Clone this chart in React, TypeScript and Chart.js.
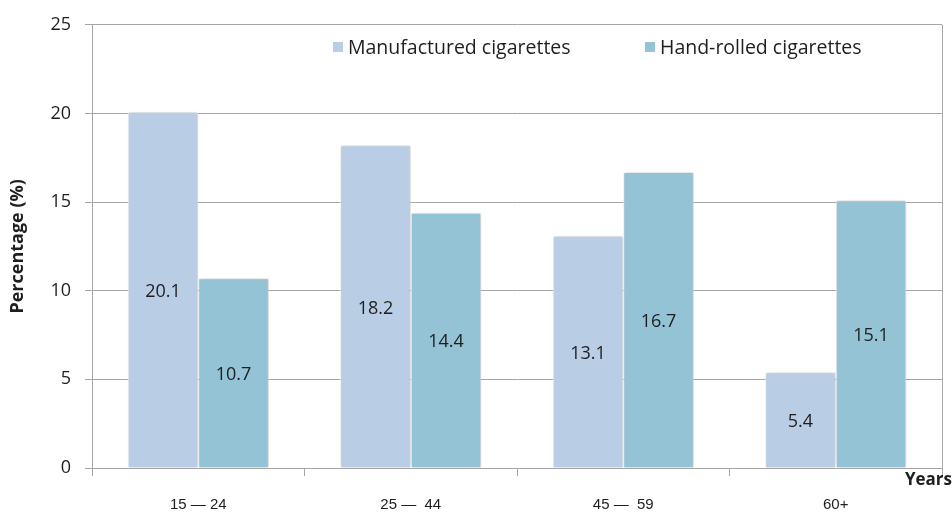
import React, { useEffect, useRef } from "react";
import { Chart, registerables } from "chart.js";

Chart.register(...registerables);

const ageGroups = ["15 — 24", "25 —  44", "45 —  59", "60+"];
const manufactured = [20.1, 18.2, 13.1, 5.4];
const handRolled = [10.7, 14.4, 16.7, 15.1];
const seriesNames = ["Manufactured cigarettes", "Hand-rolled cigarettes"];
const seriesColors = ["#b9cde5", "#93c3d5"];
const yTicks = [0, 5, 10, 15, 20, 25];

const GRID = "#a6a6a6";
const TEXT = "#1e1e1e";
const FONT = "'Open Sans', sans-serif";

// Soft drop shadow behind the bars, value labels centred in each bar,
// the in-plot legend, the right frame line and the "Years" caption.
const decorations = {
  id: "decorations",
  beforeDatasetsDraw(chart: any) {
    const ctx = chart.ctx;
    ctx.save();
    ctx.shadowColor = "rgba(0,0,0,0.22)";
    ctx.shadowBlur = 4;
    ctx.shadowOffsetX = 1;
    ctx.shadowOffsetY = 0;
  },
  afterDatasetsDraw(chart: any) {
    const ctx = chart.ctx;
    ctx.restore();
    const { chartArea } = chart;
    const yScale = chart.scales.y;

    ctx.save();
    ctx.font = `18px ${FONT}`;
    ctx.fillStyle = TEXT;
    ctx.textAlign = "center";
    ctx.textBaseline = "middle";
    chart.data.datasets.forEach((ds: any, di: number) => {
      const meta = chart.getDatasetMeta(di);
      meta.data.forEach((bar: any, i: number) => {
        const v = ds.data[i];
        const y = yScale.getPixelForValue(v / 2);
        ctx.fillText(v.toFixed(1), bar.x, y + 2);
      });
    });

    // right frame line
    ctx.strokeStyle = GRID;
    ctx.lineWidth = 1;
    ctx.beginPath();
    ctx.moveTo(Math.round(chartArea.right) + 0.5, chartArea.top);
    ctx.lineTo(Math.round(chartArea.right) + 0.5, chartArea.bottom + 8);
    ctx.stroke();

    // legend
    const legendX = [333, 645];
    chart.data.datasets.forEach((ds: any, di: number) => {
      const x = legendX[di];
      ctx.fillStyle = ds.backgroundColor;
      ctx.fillRect(x, 42, 10, 10);
      ctx.fillStyle = TEXT;
      ctx.textAlign = "left";
      ctx.textBaseline = "middle";
      ctx.font = `19.5px ${FONT}`;
      ctx.fillText(ds.label, x + 15, 48);
    });

    // x-axis caption
    ctx.font = `bold 17px ${FONT}`;
    ctx.textAlign = "right";
    ctx.fillStyle = TEXT;
    ctx.fillText("Years", 952, 480);
    ctx.restore();
  },
};

export default function App() {
  const canvasRef = useRef<HTMLCanvasElement | null>(null);

  useEffect(() => {
    document.body.style.margin = "0";
    const canvas = canvasRef.current;
    if (!canvas) return;
    const chart = new Chart(canvas, {
      type: "bar",
      data: {
        labels: ageGroups,
        datasets: [
          {
            label: seriesNames[0],
            data: manufactured,
            backgroundColor: seriesColors[0],
            borderColor: "#ffffff",
            borderWidth: 1,
          },
          {
            label: seriesNames[1],
            data: handRolled,
            backgroundColor: seriesColors[1],
            borderColor: "#ffffff",
            borderWidth: 1,
          },
        ],
      },
      options: {
        animation: false,
        responsive: false,
        maintainAspectRatio: false,
        layout: { padding: { top: 24, right: 10, left: 0, bottom: 0 } },
        datasets: {
          bar: { categoryPercentage: 0.664, barPercentage: 1 },
        },
        plugins: {
          legend: { display: false },
          tooltip: { enabled: false },
        },
        scales: {
          x: {
            grid: {
              offset: true,
              drawOnChartArea: false,
              drawTicks: true,
              tickLength: 8,
              color: GRID,
            },
            border: { color: GRID, width: 1 },
            ticks: {
              color: TEXT,
              padding: 20,
              font: { family: "'Liberation Sans', Arial, sans-serif", size: 15 },
              maxRotation: 0,
            },
            afterFit(scale: any) {
              scale.height = 44;
            },
          },
          y: {
            min: 0,
            max: 25,
            afterBuildTicks(scale: any) {
              scale.ticks = yTicks.map((v) => ({ value: v }));
            },
            grid: { color: GRID, tickLength: 7, lineWidth: 1 },
            border: { color: GRID, width: 1 },
            ticks: {
              color: TEXT,
              padding: 14,
              font: { family: FONT, size: 18 },
            },
            title: {
              display: true,
              text: "Percentage (%)",
              color: TEXT,
              font: { family: FONT, size: 18, weight: "bold" },
              padding: { top: 7, bottom: 4 },
            },
            afterFit(scale: any) {
              scale.width = 92;
            },
          },
        },
      },
      plugins: [decorations],
    });
    return () => chart.destroy();
  }, []);

  return (
    <div style={{ position: "fixed", left: 0, top: 0, width: 952, height: 512, background: "#fff" }}>
      <canvas ref={canvasRef} width={952} height={512} />
    </div>
  );
}
